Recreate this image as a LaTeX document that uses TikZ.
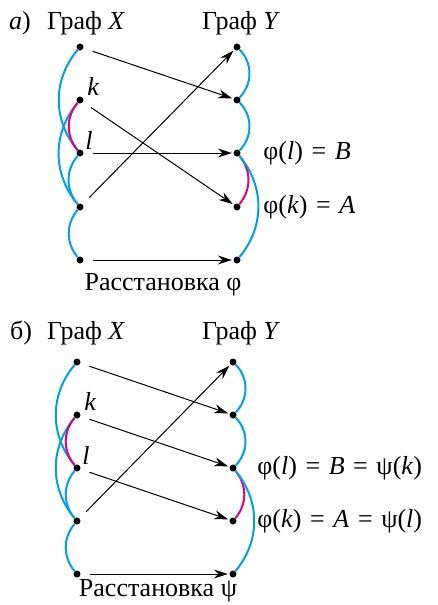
\documentclass[tikz,border=0pt]{standalone}
\usepackage{fontspec}
\setmainfont{Liberation Serif}
\usetikzlibrary{arrows.meta,positioning}
\definecolor{edgeblue}{RGB}{0,160,227}
\definecolor{edgepink}{RGB}{227,0,125}
\newcommand{\eqsign}{\hspace{0.33em}=\hspace{0.33em}}

\begin{document}
\begin{tikzpicture}[x=1pt,y=-1pt,
  vert/.style={circle,fill=black,inner sep=0pt,minimum size=7pt},
  edgeb/.style={edgeblue,line width=2pt},
  edgep/.style={edgepink,line width=2pt},
  mapto/.style={-{Stealth[length=14pt,width=9pt]},line width=1pt,shorten <=9.5pt,shorten >=1.5pt},
  lbl/.style={font=\fontsize{26}{29}\selectfont,inner sep=0pt}]
  \useasboundingbox (0,0) rectangle (437,605);

  % a) ---------------------------------------------------------------
  \node[vert] (xa1) at (80,47) {};
  \node[vert] (xa2) at (80,100) {};
  \node[vert] (xa3) at (80,153) {};
  \node[vert] (xa4) at (80,207) {};
  \node[vert] (xa5) at (80,260) {};
  \node[vert] (ya1) at (237,47) {};
  \node[vert] (ya2) at (237,100) {};
  \node[vert] (ya3) at (237,153) {};
  \node[vert] (ya4) at (237,207) {};
  \node[vert] (ya5) at (237,260) {};

  \node[lbl,anchor=base west] (taga) at (9,29) {\textit{a})};
  \node[lbl,anchor=base west] (titxa) at (47,29) {Граф \textit{X}};
  \node[lbl,anchor=base west] (titya) at (202,29) {Граф \textit{Y}};
  \node[lbl,above right=1.5pt and 4.5pt of xa2] (ka) {\textit{k}};
  \node[lbl,above right=0.5pt and 2.5pt of xa3] (la) {\textit{l}};
  \node[lbl,right=22.5pt of ya3] (phila) {φ(\textit{l})\eqsign\textit{B}};
  \node[lbl,right=22.5pt of ya4] (phika) {φ(\textit{k})\eqsign\textit{A}};
  \node[lbl,anchor=base] (capa) at (163,290) {Расстановка φ};

  \draw[edgeb] (xa1) to[bend right=40] (xa3);
  \draw[edgeb] (xa2) to[bend right=40] (xa4);
  \draw[edgep] (xa2) to[bend right=40] (xa3);
  \draw[edgeb] (xa3) to[bend right=40] (xa4);
  \draw[edgeb] (xa4) to[bend right=40] (xa5);
  \draw[edgeb] (ya1) to[bend left=45] (ya2);
  \draw[edgeb] (ya2) to[bend left=45] (ya3);
  \draw[edgep] (ya3) to[bend left=40] (ya4);
  \draw[edgeb] (ya3) to[bend left=40] (ya5);

  \draw[mapto] (xa1) -- (ya2);
  \draw[mapto] (xa2) -- (ya4);
  \draw[mapto] (xa3) -- (ya3);
  \draw[mapto] (xa4) -- (ya1);
  \draw[mapto] (xa5) -- (ya5);

  % б) ---------------------------------------------------------------
  \node[vert] (xb1) at (77,362) {};
  \node[vert] (xb2) at (77,415) {};
  \node[vert] (xb3) at (77,468) {};
  \node[vert] (xb4) at (77,521) {};
  \node[vert] (xb5) at (77,574) {};
  \node[vert] (yb1) at (233,362) {};
  \node[vert] (yb2) at (233,415) {};
  \node[vert] (yb3) at (233,468) {};
  \node[vert] (yb4) at (233,521) {};
  \node[vert] (yb5) at (233,574) {};

  \node[lbl,anchor=base west] (tagb) at (10,339) {б)};
  \node[lbl,anchor=base west] (titxb) at (47,339) {Граф \textit{X}};
  \node[lbl,anchor=base west] (tityb) at (202,339) {Граф \textit{Y}};
  \node[lbl,above right=1.5pt and 4.5pt of xb2] (kb) {\textit{k}};
  \node[lbl,above right=0.5pt and 2.5pt of xb3] (lb) {\textit{l}};
  \node[lbl,right=20.5pt of yb3] (philb) {φ(\textit{l})\eqsign\textit{B}\eqsign ψ(\textit{k})};
  \node[lbl,right=20.5pt of yb4] (phikb) {φ(\textit{k})\eqsign\textit{A}\eqsign ψ(\textit{l})};
  \node[lbl,anchor=base] (capb) at (158,596) {Расстановка ψ};

  \draw[edgeb] (xb1) to[bend right=40] (xb3);
  \draw[edgeb] (xb2) to[bend right=40] (xb4);
  \draw[edgep] (xb2) to[bend right=40] (xb3);
  \draw[edgeb] (xb3) to[bend right=40] (xb4);
  \draw[edgeb] (xb4) to[bend right=40] (xb5);
  \draw[edgeb] (yb1) to[bend left=45] (yb2);
  \draw[edgeb] (yb2) to[bend left=45] (yb3);
  \draw[edgep] (yb3) to[bend left=40] (yb4);
  \draw[edgeb] (yb3) to[bend left=40] (yb5);

  \draw[mapto] (xb1) -- (yb2);
  \draw[mapto] (xb2) -- (yb3);
  \draw[mapto] (xb3) -- (yb4);
  \draw[mapto] (xb4) -- (yb1);
  \draw[mapto] (xb5) -- (yb5);
\end{tikzpicture}
\end{document}
